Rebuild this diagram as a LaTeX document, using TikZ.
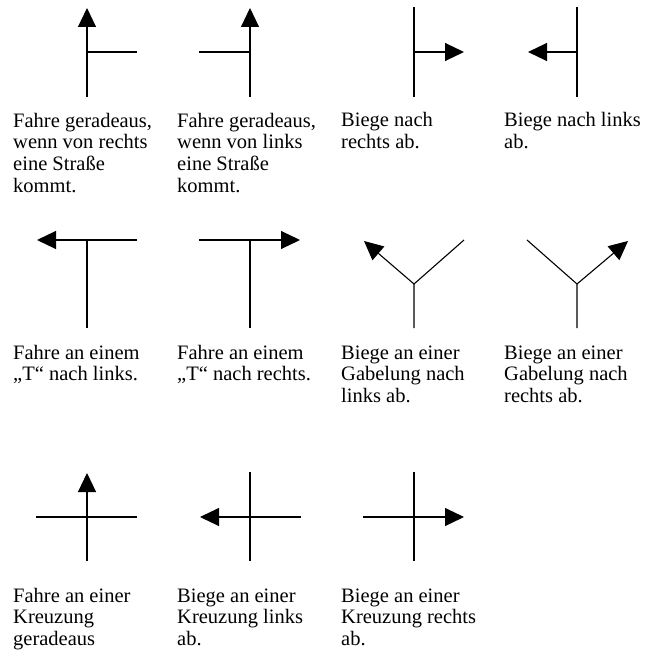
\documentclass[tikz,border=0pt]{standalone}
\usepackage{fontspec}
\setmainfont{Liberation Serif}
\usetikzlibrary{arrows.meta}
\tikzset{
    road/.style={line width=1.1pt},
    turn/.style={road,-{Triangle[length=19pt,width=18pt]}},
    label/.style={anchor=base west,align=left,inner sep=0pt,
        font=\fontsize{20.5}{21.7}\selectfont}
}
% base = Grundlinie der letzten Zeile
\begin{document}
\begin{tikzpicture}[x=1pt,y=-1pt]
    \useasboundingbox (0,0) rectangle (654,655);
    % erste Reihe
    \draw[turn] (87,97) -- (87,8);
    \draw[road] (87,52) -- (137,52);
    \draw[turn] (250,97) -- (250,8);
    \draw[road] (199,52) -- (250,52);
    \draw[road] (414,7) -- (414,97);
    \draw[turn] (414,52) -- (464,52);
    \draw[road] (577,7) -- (577,97);
    \draw[turn] (577,52) -- (528,52);
    \node[label] (geradeausR) at (13,192.1) {Fahre geradeaus,\\wenn von rechts\\eine Straße\\kommt.};
    \node[label] (geradeausL) at (177,192.1) {Fahre geradeaus,\\wenn von links\\eine Straße\\kommt.};
    \node[label] (rechts) at (341,148.7) {Biege nach\\rechts ab.};
    \node[label] (links) at (504,148.7) {Biege nach links\\ab.};
    % zweite Reihe
    \draw[turn] (137,240) -- (37,240);
    \draw[road] (87,240) -- (87,328);
    \draw[turn] (199,240) -- (300,240);
    \draw[road] (250,240) -- (250,328);
    \draw[road] (414,328) -- (414,284) -- (464,240);
    \draw[turn] (414,284) -- (364,241);
    \draw[road] (577,328) -- (577,284) -- (527,240);
    \draw[turn] (577,284) -- (628,241);
    \node[label] (tLinks) at (13,380.7) {Fahre an einem\\„T“ nach links.};
    \node[label] (tRechts) at (177,380.7) {Fahre an einem\\„T“ nach rechts.};
    \node[label] (gabelLinks) at (341,402.4) {Biege an einer\\Gabelung nach\\links ab.};
    \node[label] (gabelRechts) at (504,402.4) {Biege an einer\\Gabelung nach\\rechts ab.};
    % dritte Reihe
    \draw[turn] (87,561) -- (87,473);
    \draw[road] (36,517) -- (137,517);
    \draw[road] (250,472) -- (250,561);
    \draw[turn] (301,517) -- (200,517);
    \draw[road] (414,472) -- (414,561);
    \draw[turn] (363,517) -- (464,517);
    \node[label] (kreuzGerade) at (13,645.4) {Fahre an einer\\Kreuzung\\geradeaus};
    \node[label] (kreuzLinks) at (177,645.4) {Biege an einer\\Kreuzung links\\ab.};
    \node[label] (kreuzRechts) at (341,645.4) {Biege an einer\\Kreuzung rechts\\ab.};
\end{tikzpicture}
\end{document}
